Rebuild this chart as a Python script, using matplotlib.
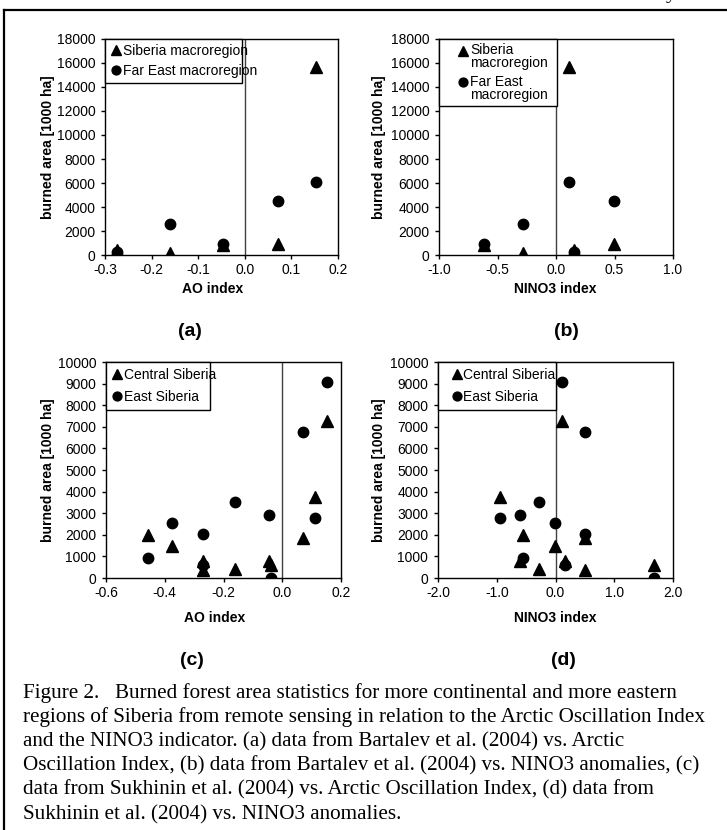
import numpy as np
import matplotlib.pyplot as plt
from matplotlib.lines import Line2D
from matplotlib.legend_handler import HandlerLine2D
from matplotlib.ticker import FormatStrFormatter

plt.rcParams['font.family'] = ['Liberation Sans', 'DejaVu Sans']

W, H = 727, 830  # figure size in pixels
FS = 10  # chart font size, points
FS_PX = FS * 100 / 72

# Bartalev et al. (2004): one value per year
ao_bartalev = [-0.274, -0.161, -0.047, 0.071, 0.152]
nino_bartalev = [0.152, -0.28, -0.616, 0.496, 0.11]
siberia_macro = [440, 170, 830, 940, 15700]
fareast_macro = [250, 2580, 940, 4490, 6070]

# Sukhinin et al. (2004): one value per year
ao_sukhinin = [-0.458, -0.375, -0.271, -0.271, -0.162, -0.046, -0.040, 0.072, 0.113, 0.153]
nino_sukhinin = [-0.548, -0.003, 0.16, 0.51, -0.28, -0.61, 1.68, 0.50, -0.95, 0.11]
central_siberia = [2010, 1480, 770, 350, 420, 810, 600, 1830, 3770, 7260]
east_siberia = [940, 2540, 580, 2030, 3520, 2910, 0, 6780, 2800, 9080]

caption = [
    "Figure 2.   Burned forest area statistics for more continental and more eastern",
    "regions of Siberia from remote sensing in relation to the Arctic Oscillation Index",
    "and the NINO3 indicator. (a) data from Bartalev et al. (2004) vs. Arctic",
    "Oscillation Index, (b) data from Bartalev et al. (2004) vs. NINO3 anomalies, (c)",
    "data from Sukhinin et al. (2004) vs. Arctic Oscillation Index, (d) data from",
    "Sukhinin et al. (2004) vs. NINO3 anomalies.",
]


class MarkerHandler(HandlerLine2D):
    """Legend marker that can be lifted to the first line of a wrapped label."""

    def __init__(self, dy=0.0):
        super().__init__()
        self.dy = dy

    def create_artists(self, *args, **kwargs):
        artists = super().create_artists(*args, **kwargs)
        for a in artists:
            a.set_ydata(np.asarray(a.get_ydata(), float) + self.dy)
        return artists


fig = plt.figure(figsize=(W / 100, H / 100), dpi=100)


def px_rect(left, right, top, bottom):
    return [left / W, 1 - bottom / H, (right - left) / W, (bottom - top) / H]


panels = [
    dict(box=(105, 338, 39, 255), x=ao_bartalev, ys=(siberia_macro, fareast_macro),
         labels=("Siberia macroregion", "Far East macroregion"),
         xlim=(-0.3, 0.2), xstep=0.1, ymax=18000, ystep=2000,
         xlabel="AO index", xlab=(213, 34), tag="(a)", tag_pos=(190, 76), ylab_x=48,
         leg=dict(w=137, bp=5, hl=12, htp=0.7, ls=0.41, lsp=None)),
    dict(box=(439, 673, 39, 255), x=nino_bartalev, ys=(siberia_macro, fareast_macro),
         labels=("Siberia\nmacroregion", "Far East\nmacroregion"),
         xlim=(-1.0, 1.0), xstep=0.5, ymax=18000, ystep=2000,
         xlabel="NINO3 index", xlab=(555, 34), tag="(b)", tag_pos=(566, 76), ylab_x=379,
         leg=dict(w=118, bp=4, hl=40.6, htp=-13.6, ls=0.3, lsp=0.94)),
    dict(box=(106, 341, 362, 578), x=ao_sukhinin, ys=(central_siberia, east_siberia),
         labels=("Central Siberia", "East Siberia"),
         xlim=(-0.6, 0.2), xstep=0.2, ymax=10000, ystep=1000,
         xlabel="AO index", xlab=(215, 40), tag="(c)", tag_pos=(192, 82), ylab_x=48,
         leg=dict(w=104, bp=5.8, hl=11, htp=1.2, ls=0.58, lsp=None)),
    dict(box=(438, 673, 362, 578), x=nino_sukhinin, ys=(central_siberia, east_siberia),
         labels=("Central Siberia", "East Siberia"),
         xlim=(-2.0, 2.0), xstep=1.0, ymax=10000, ystep=1000,
         xlabel="NINO3 index", xlab=(555, 40), tag="(d)", tag_pos=(563, 82), ylab_x=379,
         leg=dict(w=118, bp=5.8, hl=25.8, htp=-6.3, ls=0.58, lsp=None)),
]

for p in panels:
    left, right, top, bottom = p["box"]
    w = right - left
    h = bottom - top
    ax = fig.add_axes(px_rect(left, right, top, bottom))
    tri, circ = p["ys"]
    l1, = ax.plot(p["x"], tri, ls="none", marker="^", ms=8, color="black",
                  label=p["labels"][0], zorder=3)
    l2, = ax.plot(p["x"], circ, ls="none", marker="o", ms=7.5, color="black",
                  label=p["labels"][1], zorder=3)
    ax.axvline(0, color="#404040", lw=1.0, zorder=1)

    ax.set_xlim(*p["xlim"])
    ax.set_ylim(0, p["ymax"])
    lo, hi = p["xlim"]
    n = int(round((hi - lo) / p["xstep"]))
    ax.set_xticks([lo + i * p["xstep"] for i in range(n + 1)])
    ax.set_yticks(range(0, p["ymax"] + 1, p["ystep"]))
    ax.xaxis.set_major_formatter(FormatStrFormatter("%.1f"))
    ax.tick_params(axis="both", direction="out", length=3, width=1, labelsize=FS, color="black")
    ax.tick_params(axis="x", pad=3)
    ax.tick_params(axis="y", pad=4)
    for s in ax.spines.values():
        s.set_linewidth(1.0)
        s.set_color("black")

    ax.set_xlabel(p["xlabel"], fontsize=FS, fontweight="bold")
    ax.xaxis.set_label_coords((p["xlab"][0] - left) / w, -(p["xlab"][1] / h))
    ax.xaxis.label.set_va("center")
    ax.set_ylabel("burned area [1000 ha]", fontsize=FS, fontweight="bold")
    ax.yaxis.set_label_coords((p["ylab_x"] - left) / w, 0.5)
    ax.yaxis.label.set_va("center")

    lg = p["leg"]
    raise_pt = 0.0
    if lg["lsp"] is not None:
        raise_pt = lg["lsp"] / 1.2 * 17 / 2 * 72 / 100
    leg = ax.legend(handles=[l1, l2], loc="upper left",
                    bbox_to_anchor=(0, 0, lg["w"] / w, 1), mode="expand",
                    borderaxespad=0, fancybox=False, framealpha=1, edgecolor="black",
                    fontsize=FS, borderpad=lg["bp"] / FS_PX, handlelength=lg["hl"] / FS_PX,
                    handletextpad=lg["htp"] / FS_PX, labelspacing=lg["ls"],
                    markerscale=0.85,
                    handler_map={l1: MarkerHandler(raise_pt), l2: MarkerHandler(raise_pt)})
    leg.get_frame().set_linewidth(1.0)
    if lg["lsp"] is not None:
        for t in leg.get_texts():
            t.set_linespacing(lg["lsp"])

    tx, ty = p["tag_pos"]
    fig.text(tx / W, 1 - (bottom + ty) / H, p["tag"], fontsize=14,
             fontweight="bold", ha="center", va="center")

# caption in Times-like serif
for i, line in enumerate(caption):
    fig.text(23 / W, 1 - (698 + i * 24.2) / H, line,
             family=["Liberation Serif", "DejaVu Serif"],
             fontsize=15.2, ha="left", va="baseline")

# page frame around the figure, and the descender from the line above
fig.add_artist(Line2D([3.5 / W, 1.0], [1 - 10 / H] * 2, color="black", lw=1.6))
fig.add_artist(Line2D([4 / W] * 2, [0.0, 1 - 10 / H], color="black", lw=1.6))
fig.text(671 / W, 1 + 2 / H, "y", family=["Liberation Serif", "DejaVu Serif"],
         fontsize=15.2, ha="center", va="baseline")

fig.savefig("out.png", dpi=100)
